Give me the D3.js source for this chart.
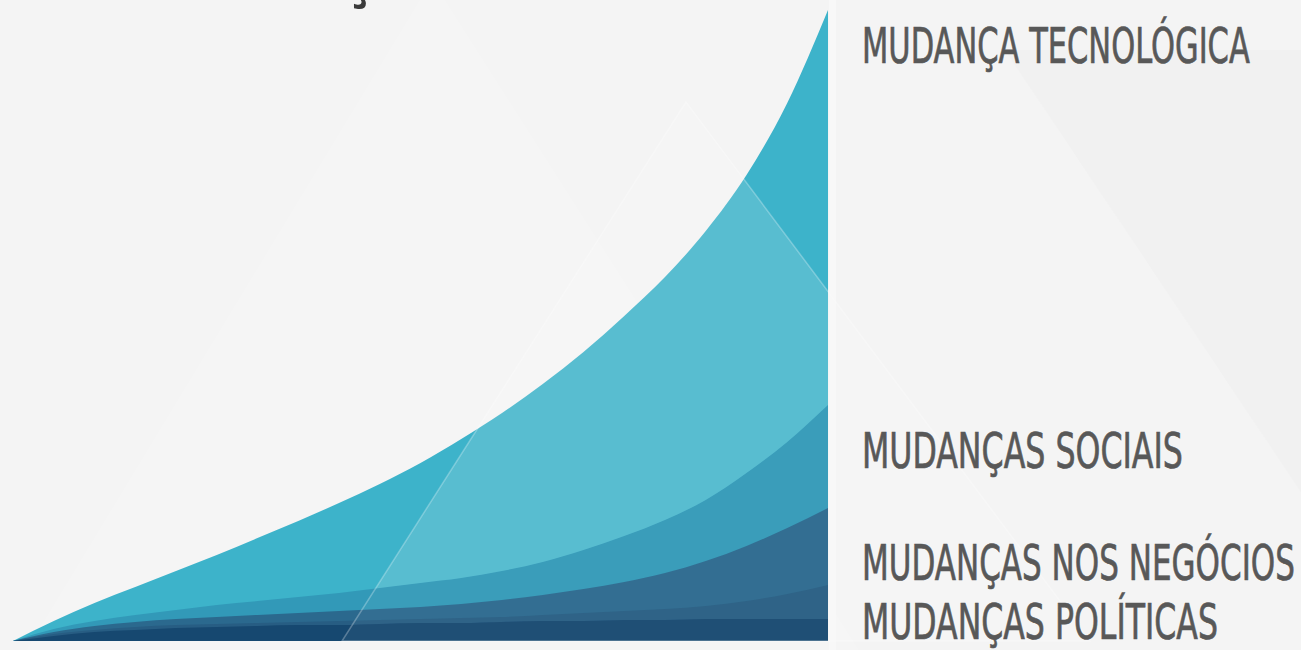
<!DOCTYPE html>
<html>
<head>
<meta charset="utf-8">
<script src="https://cdn.jsdelivr.net/npm/d3@7/dist/d3.min.js"></script>
<style>
  html, body { margin: 0; padding: 0; background: #f4f4f4; overflow: hidden; }
  svg { display: block; }
</style>
</head>
<body>
<svg id="chart" width="1301" height="650"></svg>
<script>
// ---- data ----
const timeSteps = [0, 5, 10, 15, 20, 25, 30, 35, 40, 45, 50, 55, 60, 65, 70, 75, 80, 85, 90, 95, 100];
const techChange      = [0, 20, 38, 54, 70, 86, 103, 120, 138, 157, 178, 202, 228, 257, 289, 325, 364, 410, 466, 538, 631];
const socialChange    = [0, 12, 20, 26, 31, 36, 40, 44, 48, 53, 58, 63, 70, 79, 91, 105, 121, 141, 168, 199, 236];
const businessChange  = [0, 9, 15, 19, 22, 24, 26, 28, 30, 32, 34, 37, 41, 46, 52, 59, 68, 80, 95, 113, 133];
const politicalChange = [0, 7, 11, 14, 16, 17, 18, 19, 20, 21, 22, 23, 24, 26, 28, 30, 32, 35, 40, 47, 56];
const baseLayer       = [0, 5, 9, 11, 13, 14, 15, 16, 16, 17, 18, 18, 19, 20, 20, 21, 21, 22, 22, 22, 22];

const seriesNames  = ["MUDANÇA TECNOLÓGICA", "MUDANÇAS SOCIAIS", "MUDANÇAS NOS NEGÓCIOS", "MUDANÇAS POLÍTICAS", ""];
const seriesValues = [techChange, socialChange, businessChange, politicalChange, baseLayer];
const seriesColors = ["#3db3ca", "#3299b8", "#2b698e", "#275d83", "#164870"];
const titleText = "EVOLUÇÃO";

// ---- layout ----
const W = 1301, H = 650;
const svg = d3.select("#chart");
const x = d3.scaleLinear().domain([0, 100]).range([13, 828]);
const y = d3.scaleLinear().domain([0, 631]).range([641, 10]);

// background with faint facets
svg.append("rect").attr("width", W).attr("height", H).attr("fill", "#f4f4f4");
svg.append("path")
  .attr("d", "M432,-20 L-40,760 L1400,1500 Z")
  .attr("fill", "#ffffff").attr("opacity", 0.14);
svg.append("path")
  .attr("d", "M1005,50 L1400,640 L1400,50 Z")
  .attr("fill", "#e6e6e6").attr("opacity", 0.22);

const area = d3.area()
  .x((d, i) => x(timeSteps[i]))
  .y0(y(0))
  .y1(d => y(d))
  .curve(d3.curveMonotoneX);

const triPath = "M" + [[686, 102], [342, 641], [1090, 641]].map(p => p.join(",")).join("L") + "Z";

// top (technology) layer, then the facet overlay that lightens it
svg.append("path").attr("d", area(seriesValues[0])).attr("fill", seriesColors[0]);
svg.append("path").attr("d", triPath)
  .attr("fill", "#ffffff").attr("fill-opacity", 0.11);

// lower layers
svg.append("g").selectAll("path")
  .data(seriesValues.slice(1))
  .join("path")
  .attr("d", d => area(d))
  .attr("fill", (d, i) => seriesColors[i + 1]);

// faint facet on top of everything, with a light edge
svg.append("path").attr("d", triPath)
  .attr("fill", "#ffffff").attr("fill-opacity", 0.04)
  .attr("stroke", "#ffffff").attr("stroke-opacity", 0.28).attr("stroke-width", 1.5);

// thin light gap after the chart edge
svg.append("rect").attr("x", 829).attr("y", 0).attr("width", 7).attr("height", H)
  .attr("fill", "#fafafa").attr("opacity", 0.6);

// labels (condensed look: natural font squeezed horizontally)
const labelFont = "'Liberation Sans Narrow', 'DejaVu Sans Condensed', 'Roboto', sans-serif";
const labelBase = [63, 468, 580, 639];
const labelWidth = [388, 321, 433, 356];
svg.append("g").selectAll("text")
  .data(seriesNames.slice(0, 4))
  .join("text")
  .attr("font-family", labelFont)
  .attr("font-size", 49)
  .attr("fill", "#585858")
  .attr("stroke", "#585858")
  .attr("stroke-width", 0.7)
  .text(d => d)
  .each(function(d, i) {
    const w = this.getComputedTextLength();
    const sx = labelWidth[i] / w;
    d3.select(this).attr("transform", `translate(862,${labelBase[i]}) scale(${sx},1)`);
  });

// cut-off title at top (only the cedilla shows, as in the reference)
const title = svg.append("text")
  .attr("y", -3)
  .attr("font-family", labelFont)
  .attr("font-weight", "bold")
  .attr("font-size", 60)
  .attr("fill", "#3a3a3a")
  .text(titleText);
const idx = titleText.indexOf("Ç");
const node = title.node();
const before = node.getSubStringLength(0, idx);
const cw = node.getSubStringLength(idx, 1);
title.attr("x", 357 - before - cw / 2);
</script>
</body>
</html>
